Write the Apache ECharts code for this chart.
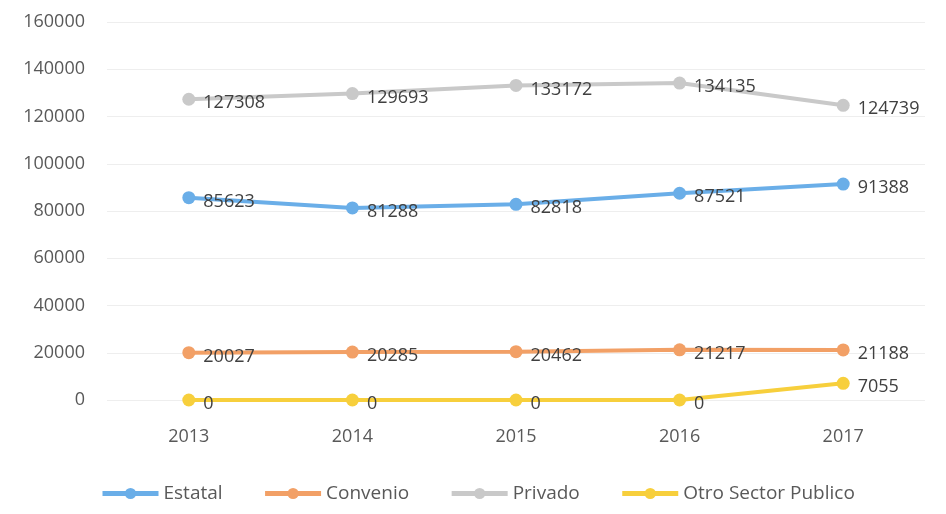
<!DOCTYPE html>
<html>
<head>
<meta charset="utf-8">
<script src="https://cdn.jsdelivr.net/npm/echarts@6/dist/echarts.min.js"></script>
<style>
  html, body { margin: 0; padding: 0; background: #fff; }
  #chart { width: 946px; height: 514px; }
</style>
</head>
<body>
<div id="chart"></div>
<script>
const years = ['2013', '2014', '2015', '2016', '2017'];
const estatal = [85623, 81288, 82818, 87521, 91388];
const convenio = [20027, 20285, 20462, 21217, 21188];
const privado = [127308, 129693, 133172, 134135, 124739];
const otroSector = [0, 0, 0, 0, 7055];

const chart = echarts.init(document.getElementById('chart'));

function line(name, data, color) {
    return {
        name: name,
        type: 'line',
        data: data,
        symbol: 'circle',
        symbolSize: 13,
        lineStyle: { color: color, width: 4 },
        itemStyle: { color: color },
        label: {
            show: true,
            position: 'right',
            distance: 8,
            offset: [0, 4],
            color: '#404040',
            fontSize: 18,
            fontFamily: 'Open Sans'
        }
    };
}

const option = {
    animation: false,
    backgroundColor: '#fff',
    grid: { left: 107, right: 21, top: 22, bottom: 114 },
    legend: {
        bottom: 6,
        left: 95,
        itemGap: 40,
        itemWidth: 56,
        itemHeight: 14,
        lineStyle: { width: 5 },
        textStyle: { color: '#595959', fontSize: 19, fontFamily: 'Open Sans' },
        data: ['Estatal', 'Convenio', 'Privado', 'Otro Sector Publico']
    },
    xAxis: {
        type: 'category',
        data: years,
        axisLine: { show: false },
        axisTick: { show: false },
        axisLabel: { color: '#595959', fontSize: 18, margin: 28, fontFamily: 'Open Sans' }
    },
    yAxis: {
        type: 'value',
        min: 0,
        max: 160000,
        interval: 20000,
        axisLabel: {
            color: '#595959', fontSize: 18, margin: 22, fontFamily: 'Open Sans',
            formatter: function (v) { return String(v); }
        },
        splitLine: { lineStyle: { color: '#eeeeee' } }
    },
    series: [
        line('Estatal', estatal, '#6aaee8'),
        line('Convenio', convenio, '#f2a066'),
        line('Privado', privado, '#c9c9c9'),
        line('Otro Sector Publico', otroSector, '#f7cf3c')
    ]
};

chart.setOption(option);
</script>
</body>
</html>
